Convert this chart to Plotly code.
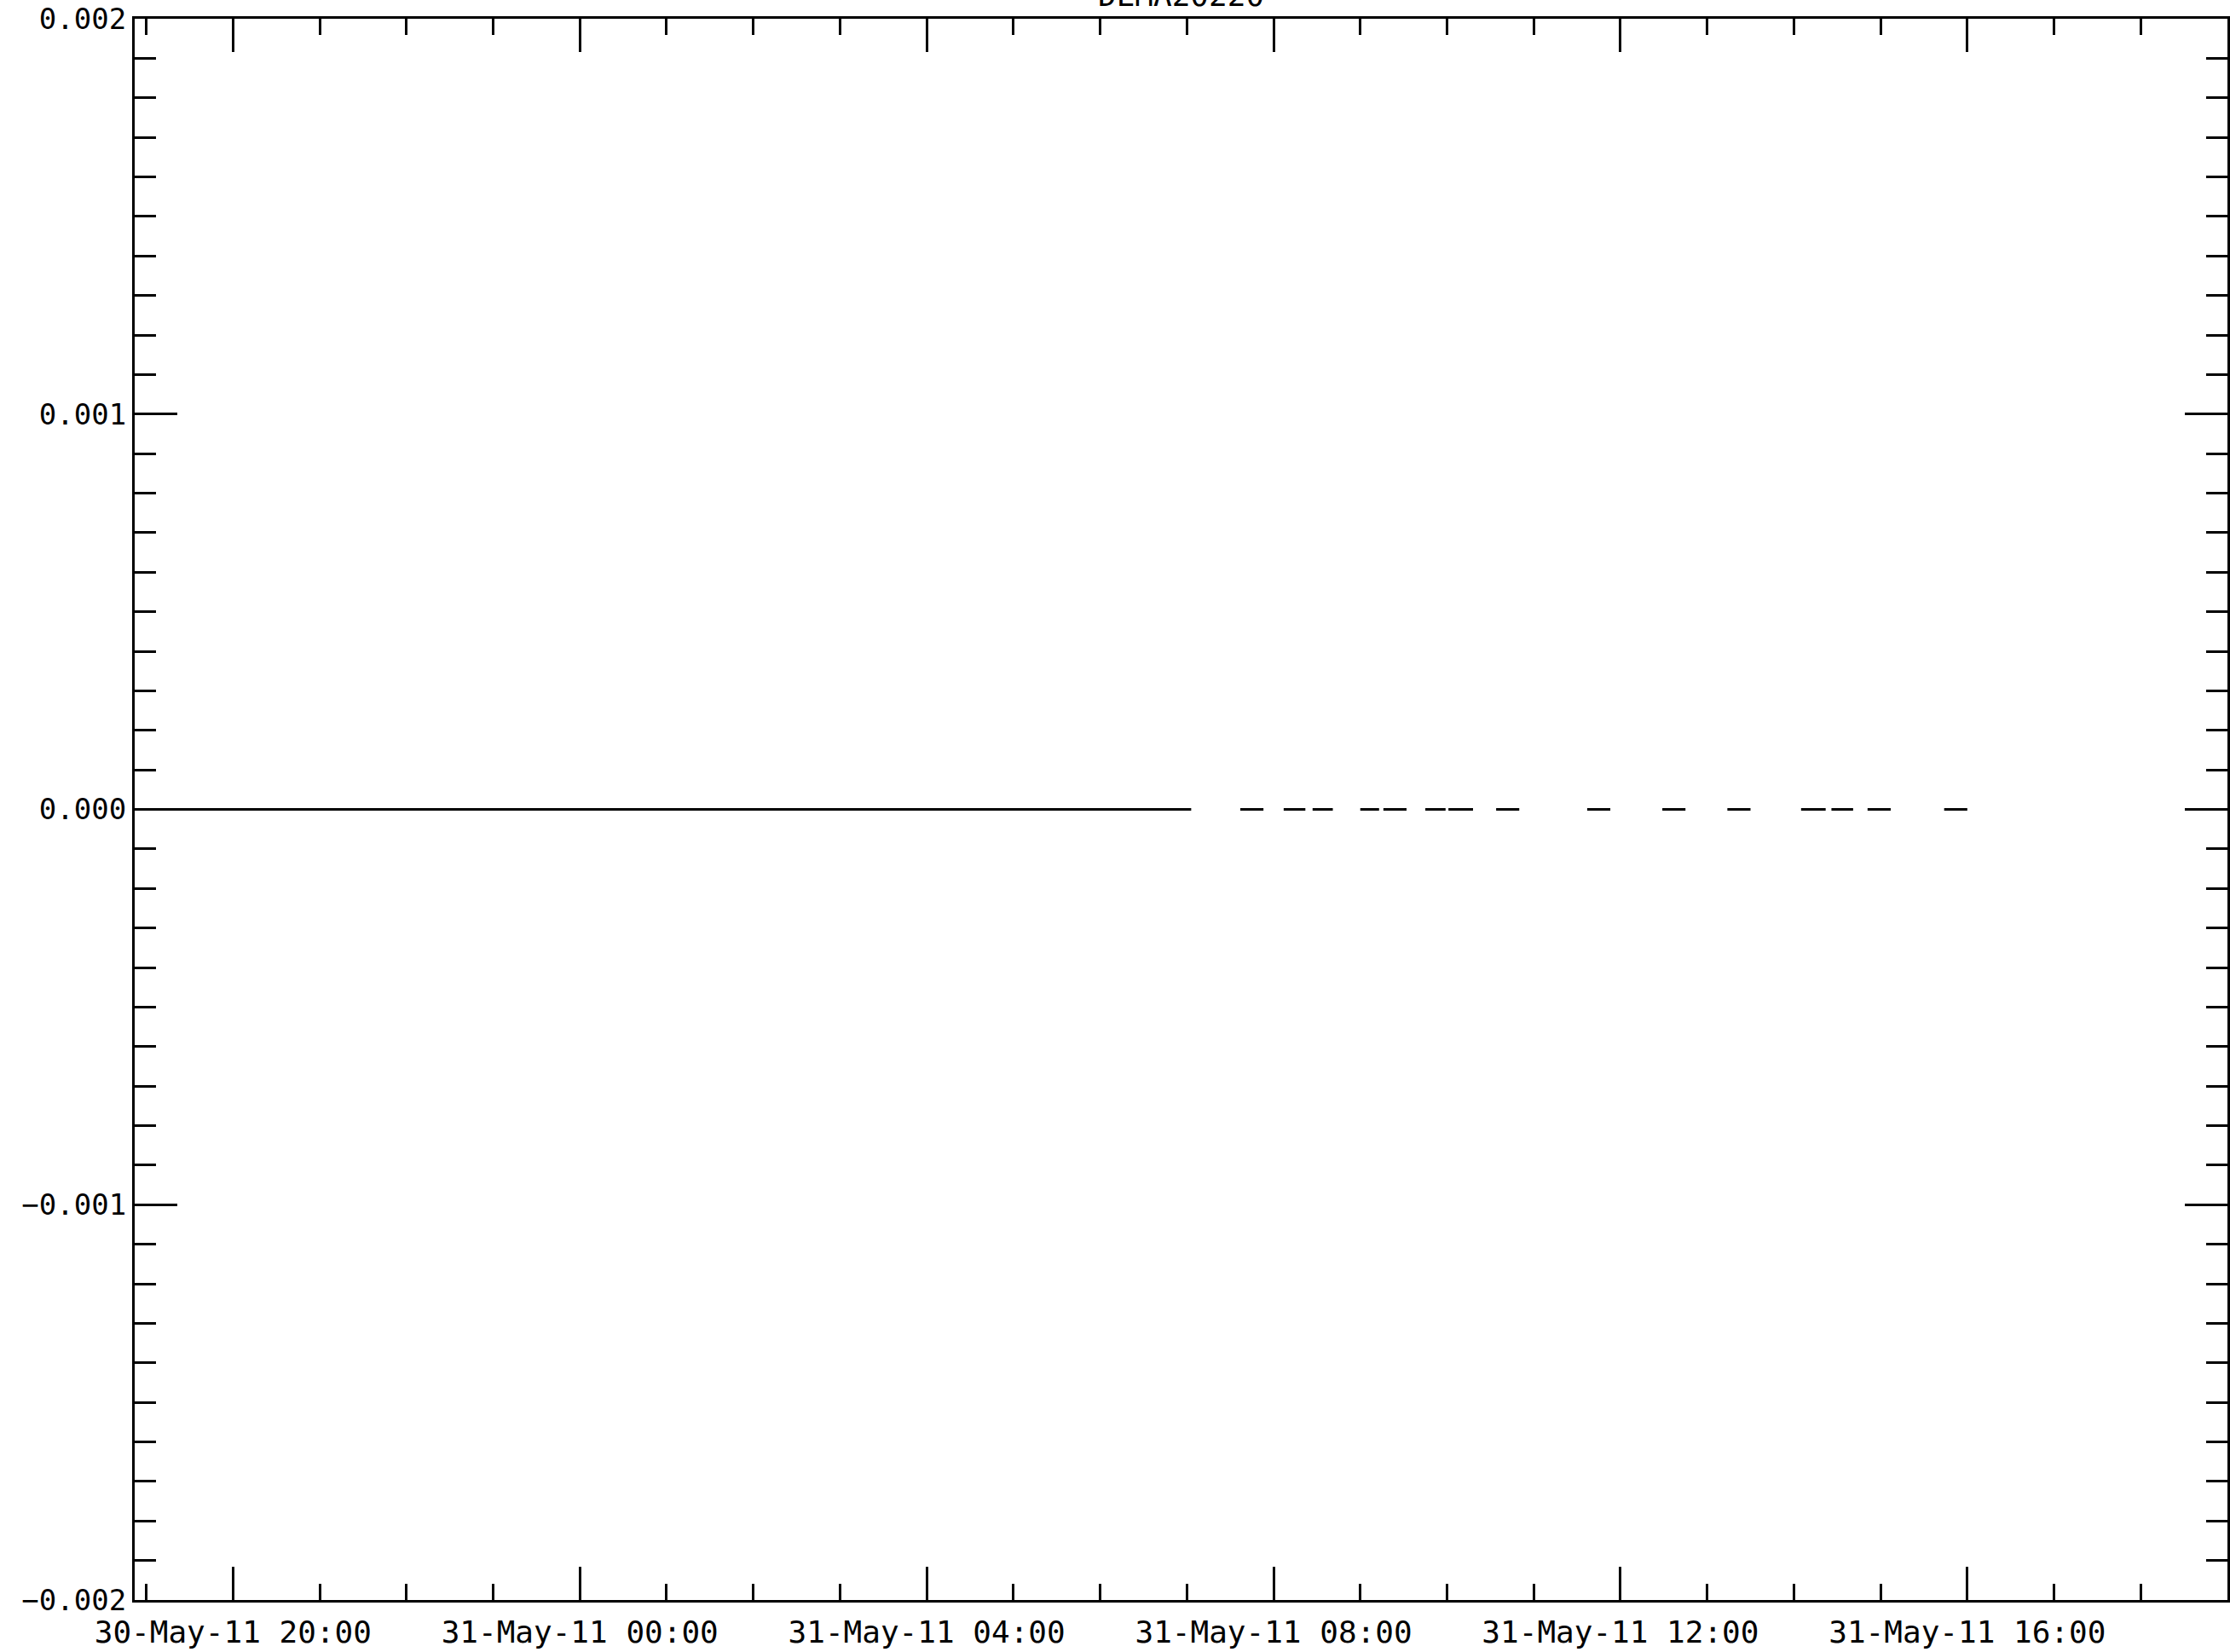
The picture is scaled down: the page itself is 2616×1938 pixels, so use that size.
import plotly.graph_objects as go

# ---- data ----
title_text = "DEMA20220"
seg_start = ["2011-05-30 18:52", "2011-05-31 07:37", "2011-05-31 08:07", "2011-05-31 08:27",
             "2011-05-31 09:00", "2011-05-31 09:16", "2011-05-31 09:45", "2011-05-31 10:01",
             "2011-05-31 10:34", "2011-05-31 11:37", "2011-05-31 12:29", "2011-05-31 13:14",
             "2011-05-31 14:05", "2011-05-31 14:26", "2011-05-31 14:51", "2011-05-31 15:44"]
seg_end = ["2011-05-31 07:03", "2011-05-31 07:53", "2011-05-31 08:22", "2011-05-31 08:41",
           "2011-05-31 09:13", "2011-05-31 09:32", "2011-05-31 09:59", "2011-05-31 10:18",
           "2011-05-31 10:50", "2011-05-31 11:53", "2011-05-31 12:45", "2011-05-31 13:30",
           "2011-05-31 14:22", "2011-05-31 14:41", "2011-05-31 15:07", "2011-05-31 16:00"]
seg_value = [0.0] * len(seg_start)

x_major = ["2011-05-30 20:00", "2011-05-31 00:00", "2011-05-31 04:00",
           "2011-05-31 08:00", "2011-05-31 12:00", "2011-05-31 16:00"]
x_labels = ["30-May-11 20:00", "31-May-11 00:00", "31-May-11 04:00",
            "31-May-11 08:00", "31-May-11 12:00", "31-May-11 16:00"]
y_major = [-0.002, -0.001, 0.0, 0.001, 0.002]
y_labels = ["\u22120.002", "\u22120.001", "0.000", "0.001", "0.002"]
x_range = ["2011-05-30 18:52", "2011-05-31 19:00"]
y_range = [-0.002, 0.002]

# build line with gaps
xs, ys = [], []
for s, e, v in zip(seg_start, seg_end, seg_value):
    xs += [s, e, None]
    ys += [v, v, None]

FONT = "DejaVu Sans Mono"

fig = go.Figure()
fig.add_trace(go.Scatter(x=xs, y=ys, mode="lines", connectgaps=False,
                         line=dict(color="black", width=3), showlegend=False,
                         hoverinfo="skip"))

fig.update_layout(
    width=2616, height=1938,
    margin=dict(l=158, r=3, t=22, b=61, autoexpand=False),
    paper_bgcolor="white", plot_bgcolor="white",
    font=dict(family=FONT, size=35, color="black"),
    showlegend=False,
)

fig.update_xaxes(
    type="date", range=x_range, automargin=False,
    tickmode="array", tickvals=x_major, ticktext=x_labels,
    ticks="inside", ticklen=39, tickwidth=3, tickcolor="black",
    ticklabelstandoff=4,
    minor=dict(dtick=3600000, tick0="2011-05-30 20:00", ticks="inside",
               ticklen=19, tickwidth=3, tickcolor="black", showgrid=False),
    showline=True, linewidth=3, linecolor="black", mirror="allticks",
    showgrid=False, zeroline=False,
    tickfont=dict(family=FONT, size=36, color="black"),
)
fig.update_yaxes(
    range=y_range, automargin=False,
    tickmode="array", tickvals=y_major, ticktext=y_labels,
    ticks="inside", ticklen=50, tickwidth=3, tickcolor="black",
    minor=dict(dtick=0.0001, tick0=0, ticks="inside",
               ticklen=25, tickwidth=3, tickcolor="black", showgrid=False),
    showline=True, linewidth=3, linecolor="black", mirror="allticks",
    showgrid=False, zeroline=False,
    tickfont=dict(family=FONT, size=34, color="black"),
)

fig.add_annotation(text=title_text, xref="paper", yref="paper", x=0.5, y=1,
                   xanchor="center", yanchor="bottom", yshift=5, showarrow=False,
                   font=dict(family=FONT, size=36, color="black"))

fig.write_html(
    "out.html",
    config={"displayModeBar": False},
    post_script="document.body.style.margin='0';document.body.style.overflow='hidden';",
)
